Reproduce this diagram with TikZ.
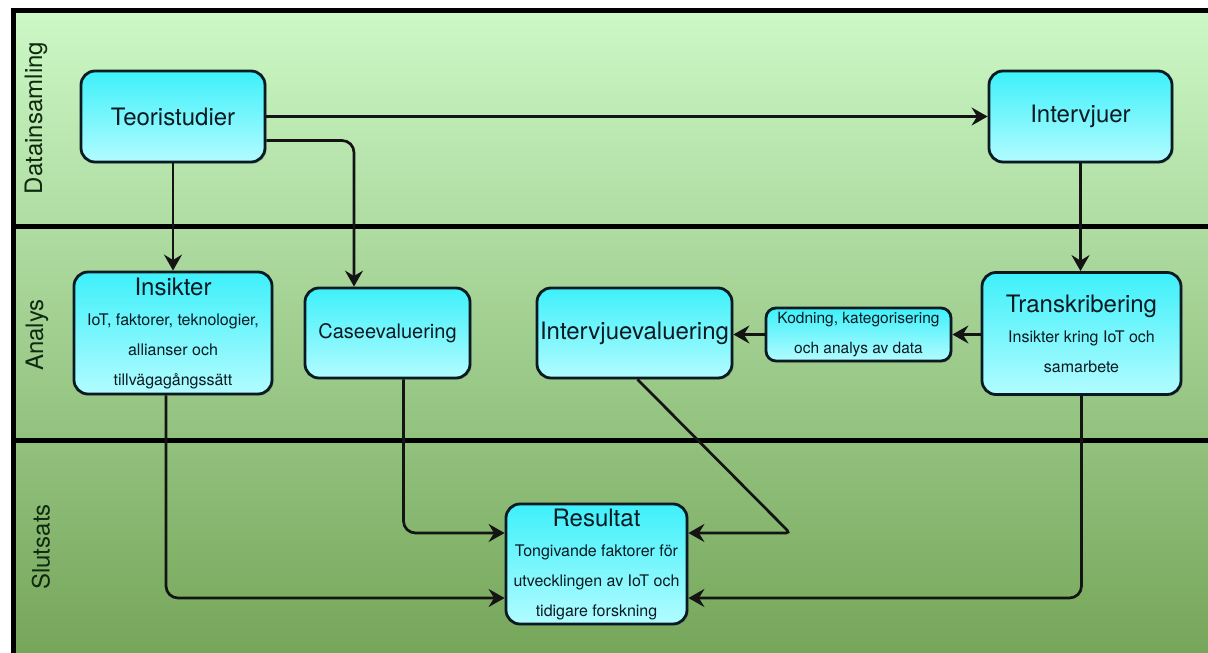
\documentclass[tikz,border=0pt]{standalone}
\usepackage{fontspec}
\setmainfont{TeX Gyre Heros}
\usetikzlibrary{arrows.meta,shadows}
\definecolor{bgtop}{HTML}{CCF8C6}
\definecolor{bgbot}{HTML}{76A65A}
\definecolor{boxtop}{HTML}{3EF0FA}
\definecolor{boxbot}{HTML}{B2FCFF}
\definecolor{ink}{HTML}{0A1A22}
\definecolor{lanetext}{HTML}{102A10}
\newcommand{\bigtitle}[1]{{\fontsize{24}{30}\selectfont #1}}
\tikzset{
  box/.style={draw=ink, line width=2.8pt, rounded corners=14pt,
    top color=boxtop, bottom color=boxbot, text=ink, align=center,
    inner sep=0pt, font=\fontsize{16}{30}\selectfont,
    drop shadow={shadow xshift=1.5pt, shadow yshift=-1.5pt, opacity=0.3, fill=black!60}},
  arr/.style={draw=black!92, line width=2.7pt,
    -{Stealth[length=16pt,width=18pt,inset=5.5pt]}},
  lanesep/.style={draw=black, line width=5pt},
  lanelabel/.style={rotate=90, font=\fontsize{24}{24}\selectfont, text=lanetext}
}
\begin{document}
\begin{tikzpicture}[x=1pt,y=-1pt]
\useasboundingbox (0,0) rectangle (1208,653);
% background
\shade[top color=bgtop, bottom color=bgbot] (13,10) rectangle (1208,653);
\draw[lanesep] (10.5,10.5) -- (1208,10.5);
\draw[lanesep] (13,8) -- (13,653);
\draw[lanesep] (13,226) -- (1208,226);
\draw[lanesep] (13,440) -- (1208,440);
% lane labels
\node[lanelabel] (l1) at (36,118) {Datainsamling};
\node[lanelabel] (l2) at (37,335) {Analys};
\node[lanelabel] (l3) at (41,547) {Slutsats};
% nodes
\node[box, minimum width=184pt, minimum height=91pt] (teori) at (173,116.5) {\bigtitle{Teoristudier}};
\node[box, minimum width=183pt, minimum height=91pt] (interv) at (1080.5,116.5) {\bigtitle{Intervjuer}};
\node[box, minimum width=198pt, minimum height=122pt] (insik) at (173,333) {\bigtitle{Insikter}\\IoT, faktorer, teknologier,\\allianser och\\tillvägagångssätt};
\node[box, minimum width=165pt, minimum height=90pt] (case) at (387.5,333) {{\fontsize{20}{30}\selectfont Caseevaluering}};
\node[box, minimum width=195pt, minimum height=90pt] (intev) at (634.5,333) {\bigtitle{Intervjuevaluering}};
\node[box, rounded corners=10pt, minimum width=185pt, minimum height=53pt, font=\fontsize{15.5}{30}\selectfont] (kod) at (858.5,334.5) {Kodning, kategorisering\\och analys av data};
\node[box, minimum width=199pt, minimum height=122pt] (trans) at (1081.5,333.5) {\bigtitle{Transkribering}\\Insikter kring IoT och\\samarbete};
\node[box, minimum width=181pt, minimum height=120pt] (res) at (596.5,564) {\bigtitle{Resultat}\\Tongivande faktorer för\\utvecklingen av IoT och\\tidigare forskning};
% connectors
\draw[arr] (teori) -- (interv);
\draw[arr, rounded corners=12pt] ([yshift=-24pt]teori.east) -| ([xshift=-33.5pt]case.north);
\draw[arr] (teori) -- (insik);
\draw[arr] (interv.south) -- (interv.south |- trans.north);
\draw[arr] (trans.west |- kod.east) -- (kod.east);
\draw[arr] (kod.west) -- (kod.west -| intev.east);
\draw[arr, rounded corners=12pt] ([xshift=-7pt]insik.south) |- ([yshift=-34pt]res.west);
\draw[arr, rounded corners=12pt] ([xshift=16pt]case.south) |- ([yshift=31pt]res.west);
\coordinate (bend) at (790,533);
\draw[arr, rounded corners=4pt] ([xshift=3pt]intev.south) -- (bend) -- (bend -| res.east);
\draw[arr, rounded corners=12pt] (trans.south) |- ([yshift=-34pt]res.east);
\end{tikzpicture}
\end{document}
